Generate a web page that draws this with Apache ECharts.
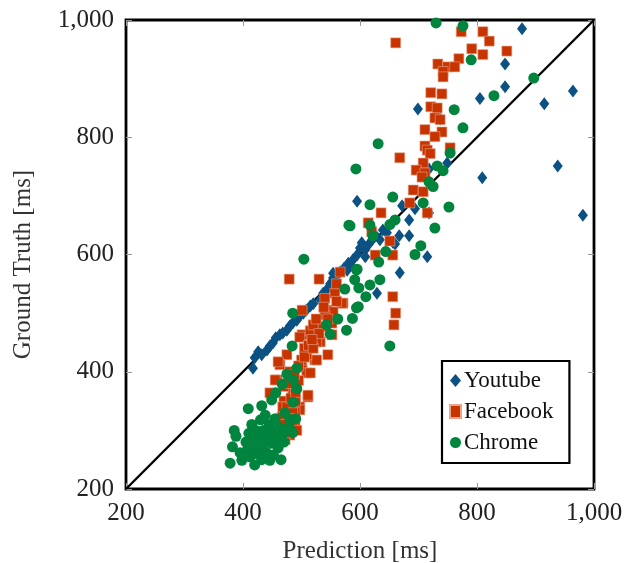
<!DOCTYPE html>
<html>
<head>
<meta charset="utf-8">
<script src="https://cdn.jsdelivr.net/npm/echarts@6/dist/echarts.min.js"></script>
<style>
  html, body { margin: 0; padding: 0; background: #fff; }
  #chart { width: 636px; height: 563px; }
</style>
</head>
<body>
<div id="chart"></div>
<script>
// axis range and ticks
const axisMin = 200;
const axisMax = 1000;
const tickStep = 200;

// [prediction, ground truth] pairs
const youtube = [
  [417, 406], [420, 424], [426, 434], [432, 429], [441, 437], [446, 444], [451, 449],
  [456, 458], [463, 463], [468, 466], [475, 471], [480, 478], [485, 483], [492, 488],
  [497, 495], [503, 500], [508, 505], [515, 512], [520, 516], [526, 471], [532, 523],
  [537, 534], [544, 541], [549, 550], [554, 560], [561, 565], [566, 570], [573, 577],
  [578, 573], [583, 582], [588, 591], [595, 599], [600, 611], [603, 620], [609, 608],
  [614, 616], [621, 625], [627, 632], [634, 625], [639, 642], [646, 637], [656, 621],
  [660, 618], [667, 632], [672, 683], [684, 659], [684, 632], [694, 678], [699, 848],
  [715, 596], [718, 671], [718, 746], [737, 831], [749, 756], [668, 569], [629, 534],
  [595, 691], [805, 866], [809, 731], [848, 925], [848, 886], [877, 985], [915, 857],
  [938, 751], [964, 879], [981, 667], [609, 596], [554, 568], [580, 585]
];

const facebook = [
  [661, 961], [773, 980], [810, 980], [821, 964], [851, 947], [791, 951], [810, 941],
  [769, 934], [733, 925], [750, 920], [762, 920], [742, 912], [742, 903], [721, 876],
  [740, 874], [721, 852], [732, 850], [728, 833], [737, 830], [711, 813], [740, 809],
  [728, 801], [711, 785], [715, 778], [720, 772], [754, 782], [668, 765], [708, 756],
  [696, 744], [711, 739], [706, 732], [691, 710], [708, 707], [685, 688], [715, 671],
  [636, 671], [614, 654], [651, 623], [620, 639], [656, 599], [626, 599], [656, 528],
  [661, 500], [658, 480], [571, 517], [479, 558], [530, 558], [566, 570], [557, 534],
  [569, 517], [544, 505], [554, 502], [540, 497], [501, 505], [552, 483], [535, 477],
  [501, 463], [552, 463], [497, 459], [532, 451], [526, 451], [545, 429], [523, 420],
  [526, 420], [509, 429], [501, 408], [475, 429], [463, 412], [460, 417], [458, 386],
  [455, 386], [446, 364], [509, 398], [515, 398], [511, 357], [511, 360], [497, 340],
  [497, 335], [475, 330], [489, 331], [467, 323], [489, 313], [485, 306], [480, 292],
  [472, 284], [460, 278], [458, 280], [470, 350], [485, 370], [495, 385], [505, 440],
  [515, 470], [480, 400], [470, 375], [490, 350], [500, 420], [520, 480], [478, 310],
  [465, 300], [468, 340], [540, 525], [560, 550], [475, 340], [482, 355], [490, 365],
  [478, 380], [488, 395], [495, 410], [505, 425], [512, 445], [520, 440], [530, 465],
  [518, 455], [485, 330], [492, 300], [482, 320], [470, 310], [476, 296], [545, 490],
  [538, 510], [525, 490], [560, 520]
];

const chrome = [
  [385, 300], [388, 290], [382, 272], [378, 244], [395, 262], [398, 249], [405, 280],
  [408, 268], [410, 295], [412, 255], [415, 310], [418, 285], [420, 241], [420, 270],
  [422, 300], [425, 260], [428, 288], [430, 318], [432, 250], [433, 275], [435, 300],
  [438, 326], [440, 262], [442, 290], [445, 310], [446, 249], [448, 278], [450, 300],
  [452, 258], [455, 320], [456, 286], [458, 289], [460, 270], [462, 305], [465, 250],
  [468, 295], [470, 280], [472, 330], [475, 300], [479, 306], [480, 318], [485, 296],
  [490, 320], [449, 352], [432, 342], [409, 337], [456, 364], [467, 379], [492, 371],
  [486, 348], [475, 396], [486, 386], [492, 406], [484, 444], [485, 500], [504, 592],
  [543, 480], [549, 464], [562, 490], [577, 471], [587, 491], [594, 509], [574, 541],
  [591, 557], [594, 574], [598, 543], [617, 548], [610, 528], [597, 511], [634, 557],
  [595, 575], [632, 587], [644, 605], [694, 600], [704, 615], [651, 444], [581, 650],
  [617, 650], [651, 651], [622, 632], [583, 649], [660, 659], [617, 685], [656, 698],
  [708, 688], [728, 645], [752, 681], [718, 724], [725, 716], [732, 751], [742, 743],
  [754, 773], [593, 746], [631, 789], [761, 847], [776, 816], [829, 871], [790, 932],
  [897, 901], [730, 995], [776, 990]
];

const identityLine = [[axisMin, axisMin], [axisMax, axisMax]];

const FONT = '"Liberation Serif", "DejaVu Serif", serif';
const fmt = v => v.toLocaleString('en-US');

const myChart = echarts.init(document.getElementById('chart'), null, { renderer: 'canvas' });

function baseAxis(extra) {
  return Object.assign({
    type: 'value',
    min: axisMin,
    max: axisMax,
    interval: tickStep,
    splitLine: { show: false },
    axisLine: { show: false },
    axisTick: { inside: true, length: 6, lineStyle: { color: '#999', width: 1 } }
  }, extra);
}

const option = {
  animation: false,
  backgroundColor: '#fff',
  grid: {
    left: 126, right: 42, top: 20, bottom: 74,
    outerBoundsMode: 'none',
    show: true, borderColor: '#000', borderWidth: 2.8, backgroundColor: 'transparent'
  },
  xAxis: [
    baseAxis({
      position: 'bottom',
      name: 'Prediction [ms]',
      nameLocation: 'middle',
      nameGap: 50,
      nameTextStyle: { fontFamily: FONT, fontSize: 25, color: '#333' },
      axisLabel: { fontFamily: FONT, fontSize: 25, color: '#222', margin: 12, formatter: fmt }
    }),
    baseAxis({ position: 'top', axisLabel: { show: false } })
  ],
  yAxis: [
    baseAxis({
      position: 'left',
      name: 'Ground Truth [ms]',
      nameLocation: 'middle',
      nameGap: 90,
      nameTextStyle: { fontFamily: FONT, fontSize: 25, color: '#333', padding: [0, 20, 0, 0] },
      axisLabel: {
        fontFamily: FONT, fontSize: 25, color: '#222', margin: 12,
        padding: [9, 0, 0, 0], formatter: fmt
      }
    }),
    baseAxis({ position: 'right', axisLabel: { show: false } })
  ],
  legend: {
    left: 442,
    top: 361,
    orient: 'vertical',
    backgroundColor: '#fff',
    borderColor: '#000',
    borderWidth: 2.2,
    padding: [8, 16, 9, 7],
    itemGap: 8,
    itemWidth: 11,
    itemHeight: 13,
    textStyle: { fontFamily: FONT, fontSize: 23, color: '#111', padding: [0, 0, 0, -2] },
    data: [
      { name: 'Youtube', icon: 'diamond' },
      { name: 'Facebook', icon: 'rect', itemHeight: 10 },
      { name: 'Chrome', icon: 'circle' }
    ],
    z: 10
  },
  series: [
    {
      name: 'identity',
      type: 'line',
      data: identityLine,
      symbol: 'none',
      lineStyle: { color: '#000', width: 2.4 },
      z: 1,
      silent: true
    },
    {
      name: 'Youtube',
      type: 'scatter',
      data: youtube,
      symbol: 'diamond',
      symbolSize: [10, 13],
      itemStyle: { color: '#0b5283', opacity: 1 },
      z: 2
    },
    {
      name: 'Facebook',
      type: 'scatter',
      data: facebook,
      symbol: 'rect',
      symbolSize: 10,
      itemStyle: { color: '#c73400', borderColor: '#e8a58c', borderWidth: 0.6, opacity: 1 },
      z: 3
    },
    {
      name: 'Chrome',
      type: 'scatter',
      data: chrome,
      symbol: 'circle',
      symbolSize: 11,
      itemStyle: { color: '#00843e', opacity: 1 },
      z: 4
    }
  ]
};

myChart.setOption(option);
</script>
</body>
</html>
